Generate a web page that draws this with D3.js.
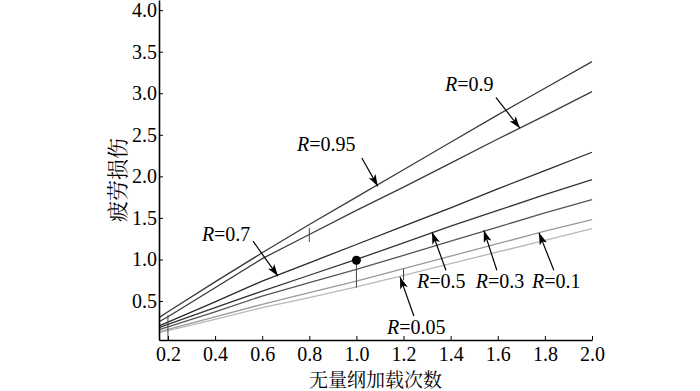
<!DOCTYPE html>
<html>
<head>
<meta charset="utf-8">
<script src="https://cdn.jsdelivr.net/npm/d3@7"></script>
<style>
  body { margin: 0; background: #fff; }
</style>
</head>
<body>
<div id="chart"></div>
<script>
// x positions of the readings (dimensionless loading cycles)
const cycles = [0.162, 0.2, 0.4, 0.6, 0.8, 1.0, 1.2, 1.4, 1.6, 1.8, 2.0];

// fatigue damage per stress ratio
const r095 = [0.30, 0.37, 0.73, 1.08, 1.42, 1.75, 2.08, 2.41, 2.74, 3.06, 3.38];
const r09  = [0.25, 0.31, 0.66, 1.01, 1.30, 1.59, 1.87, 2.16, 2.45, 2.73, 3.02];
const r07  = [0.20, 0.245, 0.49, 0.74, 0.96, 1.18, 1.40, 1.62, 1.85, 2.07, 2.29];
const r05  = [0.18, 0.22, 0.42, 0.62, 0.81, 1.00, 1.20, 1.40, 1.59, 1.78, 1.96];
const r03  = [0.155, 0.19, 0.37, 0.56, 0.72, 0.88, 1.05, 1.22, 1.39, 1.56, 1.72];
const r01  = [0.13, 0.16, 0.31, 0.46, 0.60, 0.74, 0.89, 1.04, 1.19, 1.34, 1.48];
const r005 = [0.12, 0.145, 0.28, 0.42, 0.54, 0.67, 0.81, 0.95, 1.09, 1.23, 1.37];

const seriesNames = ["0.95", "0.9", "0.7", "0.5", "0.3", "0.1", "0.05"];
const seriesValues = [r095, r09, r07, r05, r03, r01, r005];
const seriesColors = ["#3a3a3a", "#3a3a3a", "#2a2a2a", "#333", "#555", "#9a9a9a", "#b8b8b8"];

const xTicks = [0.2, 0.4, 0.6, 0.8, 1.0, 1.2, 1.4, 1.6, 1.8, 2.0];
const yTicks = [0.5, 1.0, 1.5, 2.0, 2.5, 3.0, 3.5, 4.0];

// short vertical markers [x, from, to]
const markers = [[0.2, 0.031, 0.33], [0.8, 1.21, 1.38], [1.0, 0.66, 0.99], [1.2, 0.75, 0.89]];
const dot = [1.0, 0.99];

// labels: text, label pos, arrow start, arrow tip (data units)
const labels = [
  {r: "0.95", x: 0.748, y: 2.31, ax: 1.023, ay: 2.22, tx: 1.091, ty: 1.88},
  {r: "0.9",  x: 1.376, y: 3.03, ax: 1.592, ay: 2.95, tx: 1.694, ty: 2.58},
  {r: "0.7",  x: 0.344, y: 1.22, ax: 0.561, ay: 1.22, tx: 0.667, ty: 0.80},
  {r: "0.5",  x: 1.257, y: 0.66, ax: 1.380, ay: 0.87, tx: 1.321, ty: 1.33},
  {r: "0.3",  x: 1.507, y: 0.66, ax: 1.596, ay: 0.87, tx: 1.541, ty: 1.35},
  {r: "0.1",  x: 1.745, y: 0.66, ax: 1.838, ay: 0.87, tx: 1.775, ty: 1.32},
  {r: "0.05", x: 1.130, y: 0.104, ax: 1.244, ay: 0.32, tx: 1.185, ty: 0.79}
];

const serif = "'Liberation Serif', 'Times New Roman', serif";
const cjk = "'Noto Serif CJK SC', 'Noto Sans CJK SC', serif";

const width = 700, height = 391;
const margin = {top: 0, left: 159, right: 108, bottom: 51};
const innerW = width - margin.left - margin.right;
const innerH = height - margin.top - margin.bottom;

const svg = d3.select("#chart").append("svg")
  .attr("width", width)
  .attr("height", height);

const defs = svg.append("defs");
defs.append("marker")
  .attr("id", "head")
  .attr("viewBox", "0 0 12 8")
  .attr("refX", 12).attr("refY", 4)
  .attr("markerWidth", 12).attr("markerHeight", 8)
  .attr("markerUnits", "userSpaceOnUse")
  .attr("orient", "auto")
  .append("path")
  .attr("d", "M0,0 L12,4 L0,8 L3,4 Z")
  .attr("fill", "#000");

const g = svg.append("g").attr("transform", `translate(${margin.left},${margin.top})`);

const x = d3.scaleLinear().domain([0.162, 2.0]).range([0, innerW]);
const y = d3.scaleLinear().domain([0.031, 4.122]).range([innerH, 0]);

// lines
const line = d3.line()
  .x((d, i) => x(cycles[i]))
  .y(d => y(d));

g.selectAll(".series")
  .data(seriesValues)
  .enter()
  .append("path")
  .attr("class", "series")
  .attr("d", d => line(d))
  .attr("fill", "none")
  .attr("stroke", (d, i) => seriesColors[i])
  .attr("stroke-width", 1.3);

// markers
g.selectAll(".marker")
  .data(markers)
  .enter()
  .append("line")
  .attr("x1", d => x(d[0])).attr("x2", d => x(d[0]))
  .attr("y1", d => y(d[1])).attr("y2", d => y(d[2]))
  .attr("stroke", "#444")
  .attr("stroke-width", 1);

g.append("circle")
  .attr("cx", x(dot[0]))
  .attr("cy", y(dot[1]))
  .attr("r", 4.5)
  .attr("fill", "#000");

// axes
const xAxis = g.append("g")
  .attr("transform", `translate(0,${innerH})`)
  .call(d3.axisBottom(x).tickValues(xTicks).tickFormat(d3.format(".1f")).tickSize(-4).tickPadding(7).tickSizeOuter(0));

const yAxis = g.append("g")
  .call(d3.axisLeft(y).tickValues(yTicks).tickFormat(d3.format(".1f")).tickSize(-4).tickPadding(2).tickSizeOuter(0));

[xAxis, yAxis].forEach(a => {
  a.attr("font-family", null).attr("font-size", null);
  a.select(".domain").attr("stroke", "#000").attr("stroke-width", 1.6);
  a.selectAll(".tick line").attr("stroke", "#000");
  a.selectAll(".tick text")
    .style("font-family", serif)
    .style("font-size", "20px")
    .attr("fill", "#000");
});

// annotations
const ann = g.selectAll(".ann")
  .data(labels)
  .enter()
  .append("g")
  .attr("class", "ann");

ann.append("line")
  .attr("x1", d => x(d.ax)).attr("y1", d => y(d.ay))
  .attr("x2", d => x(d.tx)).attr("y2", d => y(d.ty))
  .attr("stroke", "#000")
  .attr("stroke-width", 1.2)
  .attr("marker-end", "url(#head)");

const t = ann.append("text")
  .attr("x", d => x(d.x))
  .attr("y", d => y(d.y))
  .style("font-family", serif)
  .style("font-size", "20px")
  .attr("fill", "#000");
t.append("tspan").style("font-style", "italic").text("R");
t.append("tspan").text(d => "=" + d.r);

// axis titles
svg.append("text")
  .attr("x", margin.left + innerW / 2)
  .attr("y", 387)
  .attr("text-anchor", "middle")
  .attr("fill", "#000")
  .style("font-size", "19px")
  .style("font-family", cjk)
  .text("无量纲加载次数");

svg.append("text")
  .attr("transform", "translate(125,180) rotate(-90)")
  .attr("text-anchor", "middle")
  .attr("fill", "#000")
  .style("font-size", "21px")
  .style("font-family", cjk)
  .text("疲劳损伤");
</script>
</body>
</html>
